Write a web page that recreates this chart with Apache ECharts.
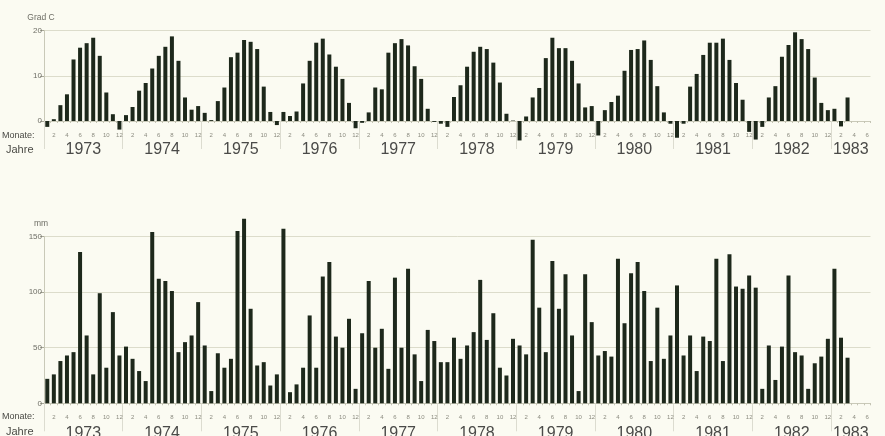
<!DOCTYPE html>
<html>
<head>
<meta charset="utf-8">
<script src="https://cdn.jsdelivr.net/npm/echarts@6/dist/echarts.min.js"></script>
<style>
  html, body { margin: 0; padding: 0; background: #fbfbf2; }
  #chart { width: 885px; height: 436px; }
</style>
</head>
<body>
<div id="chart"></div>
<script>
// Calendar years on the time axis (1983 only up to June)
const years = [1973, 1974, 1975, 1976, 1977, 1978, 1979, 1980, 1981, 1982, 1983];
const monthsPerYear = [12, 12, 12, 12, 12, 12, 12, 12, 12, 12, 6];

// Monthly mean air temperature, Grad C
const temp1973 = [-1.3, 0.4, 3.5, 5.9, 13.6, 16.2, 17.2, 18.4, 14.4, 6.3, 1.5, -1.9];
const temp1974 = [1.3, 3.1, 6.7, 8.4, 11.6, 14.4, 16.4, 18.7, 13.3, 5.2, 2.5, 3.3];
const temp1975 = [1.8, 0.2, 4.4, 7.4, 14.1, 15.1, 17.9, 17.5, 15.9, 7.6, 2.0, -0.9];
const temp1976 = [2.0, 1.1, 2.1, 8.3, 13.3, 17.3, 18.2, 14.7, 12.0, 9.3, 4.0, -1.6];
const temp1977 = [-0.4, 1.9, 7.4, 7.0, 15.1, 17.2, 18.1, 16.7, 12.1, 9.3, 2.7, -0.2];
const temp1978 = [-0.6, -1.3, 5.3, 7.9, 12.0, 15.3, 16.4, 15.9, 12.9, 8.5, 1.6, 0.1];
const temp1979 = [-4.3, 1.0, 5.2, 7.3, 13.9, 18.4, 16.1, 16.1, 13.3, 8.3, 3.0, 3.3];
const temp1980 = [-3.2, 2.4, 4.2, 5.6, 11.1, 15.7, 15.9, 17.8, 13.5, 7.7, 1.9, -0.6];
const temp1981 = [-3.7, -0.6, 7.6, 10.4, 14.6, 17.3, 17.3, 18.2, 13.5, 8.4, 4.7, -2.4];
const temp1982 = [-4.1, -1.3, 5.2, 7.7, 14.2, 16.8, 19.6, 18.1, 15.9, 9.6, 4.0, 2.4];
const temp1983 = [2.7, -1.2, 5.2, null, null, null];

// Monthly precipitation, mm
const rain1973 = [22, 26, 38, 43, 46, 136, 61, 26, 99, 32, 82, 43];
const rain1974 = [51, 40, 29, 20, 154, 112, 110, 101, 46, 55, 61, 91];
const rain1975 = [52, 11, 45, 32, 40, 155, 166, 85, 34, 37, 16, 26];
const rain1976 = [157, 10, 17, 32, 79, 32, 114, 127, 60, 50, 76, 13];
const rain1977 = [63, 110, 50, 67, 31, 113, 50, 121, 44, 20, 66, 56];
const rain1978 = [37, 37, 59, 40, 52, 64, 111, 57, 81, 32, 25, 58];
const rain1979 = [52, 44, 147, 86, 46, 128, 85, 116, 61, 11, 116, 73];
const rain1980 = [43, 47, 42, 130, 72, 117, 127, 101, 38, 86, 40, 61];
const rain1981 = [106, 43, 61, 29, 60, 56, 130, 38, 134, 105, 103, 115];
const rain1982 = [104, 13, 52, 21, 51, 115, 46, 43, 13, 36, 42, 58];
const rain1983 = [121, 59, 41, null, null, null];

// Value axis tick labels
const tempTicks = [0, 10, 20];
const rainTicks = [0, 50, 100, 150];

const temperature = [].concat(temp1973, temp1974, temp1975, temp1976, temp1977,
  temp1978, temp1979, temp1980, temp1981, temp1982, temp1983);
const precipitation = [].concat(rain1973, rain1974, rain1975, rain1976, rain1977,
  rain1978, rain1979, rain1980, rain1981, rain1982, rain1983);

// Month number for every category slot, plus year boundaries / centres
const monthCats = [];
const yearStarts = [];
const yearCentres = [];
let offset = 0;
monthsPerYear.forEach(function (n) {
  yearStarts.push(offset);
  yearCentres.push(offset + n / 2);
  for (let m = 1; m <= n; m++) monthCats.push(String(m));
  offset += n;
});
const totalMonths = offset;

// ---- layout ----
const LEFT = 44, RIGHT = 14.5;
const TOP_GRID = { top: 30.5, height: 90.5 };
const BOT_GRID = { top: 236.5, height: 166.8 };

const INK = '#1d281b';
const GRIDLINE = '#dcdccb';
const AXISLINE = '#c9c9b8';
const SMALL_TXT = '#6e6e66';
const YEAR_TXT = '#4a4a48';
const FONT = 'Liberation Sans, Arial, sans-serif';

function monthAxis(gridIndex) {
  return {
    type: 'category',
    gridIndex: gridIndex,
    data: monthCats,
    boundaryGap: true,
    axisLine: { show: true, onZero: false, lineStyle: { color: AXISLINE, width: 1 } },
    axisTick: { show: true, interval: 0, length: 2, lineStyle: { color: '#c4c4b4' } },
    axisLabel: {
      interval: function (i) { return (i % 12) % 2 === 1; },
      fontSize: 6, color: '#8c8c80', fontFamily: FONT, margin: 11
    },
    splitLine: { show: false }
  };
}

function yearAxis(gridIndex, labelMargin) {
  return {
    type: 'value',
    gridIndex: gridIndex,
    min: 0, max: totalMonths,
    position: 'bottom',
    offset: 6,
    axisLine: { show: false },
    splitLine: { show: false },
    axisTick: {
      show: true, inside: false, length: 28,
      customValues: yearStarts,
      lineStyle: { color: '#dcdcd0', width: 1 }
    },
    axisLabel: {
      customValues: yearCentres,
      formatter: function (v) { return String(years[Math.min(years.length - 1, Math.floor(v / 12))]); },
      fontSize: 16, color: YEAR_TXT, fontFamily: FONT, margin: labelMargin
    }
  };
}

function valueAxis(gridIndex, ticks, name) {
  const step = ticks[1] - ticks[0];
  return {
    type: 'value',
    gridIndex: gridIndex,
    min: ticks[0], max: ticks[ticks.length - 1], interval: step,
    name: name,
    nameLocation: 'end',
    nameGap: 8,
    nameTextStyle: { fontSize: 8.5, color: SMALL_TXT, fontFamily: FONT, align: 'center', padding: [0, 6, 0, 0] },
    axisLine: { show: true, lineStyle: { color: AXISLINE } },
    axisTick: { show: true, length: 4, lineStyle: { color: '#a8a898' } },
    axisLabel: { fontSize: 8, color: SMALL_TXT, fontFamily: FONT, margin: 2 },
    splitLine: { show: true, lineStyle: { color: GRIDLINE, width: 1 } }
  };
}

function barSeries(xi, yi, data) {
  return {
    type: 'bar',
    xAxisIndex: xi, yAxisIndex: yi,
    data: data,
    barWidth: 4,
    clip: false,
    itemStyle: { color: INK },
    emphasis: { disabled: true },
    silent: true
  };
}

function sideLabel(text, x, y, size) {
  return {
    type: 'text', left: x, top: y,
    style: { text: text, fontSize: size, fill: '#4a4a45', fontFamily: FONT }
  };
}

const zeroTop = TOP_GRID.top + TOP_GRID.height;
const zeroBot = BOT_GRID.top + BOT_GRID.height;

const chart = echarts.init(document.getElementById('chart'), null, { renderer: 'canvas' });
chart.setOption({
  backgroundColor: '#fbfbf2',
  animation: false,
  grid: [
    { left: LEFT, right: RIGHT, top: TOP_GRID.top, height: TOP_GRID.height, outerBoundsMode: 'none', containLabel: false },
    { left: LEFT, right: RIGHT, top: BOT_GRID.top, height: BOT_GRID.height, outerBoundsMode: 'none', containLabel: false }
  ],
  xAxis: [monthAxis(0), yearAxis(0, 15), monthAxis(1), yearAxis(1, 16)],
  yAxis: [valueAxis(0, tempTicks, 'Grad C'), valueAxis(1, rainTicks, 'mm')],
  series: [barSeries(0, 0, temperature), barSeries(2, 1, precipitation)],
  graphic: [
    sideLabel('Monate:', 2, zeroTop + 10, 9),
    sideLabel('Jahre', 6, zeroTop + 23, 11),
    sideLabel('Monate:', 2, zeroBot + 9, 9),
    sideLabel('Jahre', 6, zeroBot + 23, 11)
  ]
});
</script>
</body>
</html>
